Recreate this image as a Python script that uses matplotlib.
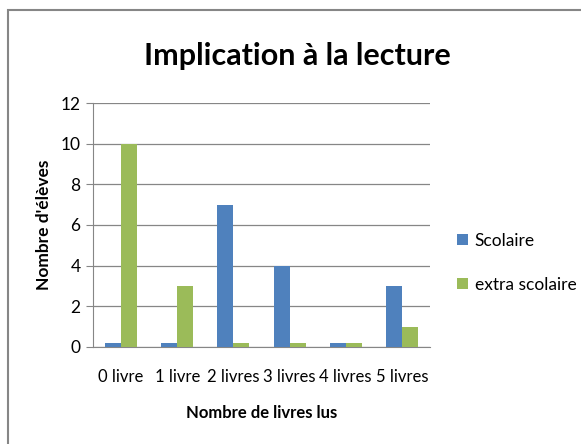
import matplotlib.pyplot as plt
from matplotlib.patches import Rectangle
import numpy as np

plt.rcParams['font.family'] = ['Lato', 'DejaVu Sans']

categories = ['0 livre', '1 livre', '2 livres', '3 livres', '4 livres', '5 livres']
scolaire = [0.2, 0.2, 7, 4, 0.2, 3]
extra_scolaire = [10, 3, 0.2, 0.2, 0.2, 1]
series_names = ['Scolaire', 'extra scolaire']
yticks = [0, 2, 4, 6, 8, 10, 12]

fig = plt.figure(figsize=(5.81, 4.44), dpi=100)
ax = fig.add_axes([0.160, 0.2185, 0.580, 0.5495])

x = np.arange(len(categories))
w = 0.285
ax.bar(x - w / 2, scolaire, w, color='#4F81BD', label=series_names[0], zorder=3)
ax.bar(x + w / 2, extra_scolaire, w, color='#9BBB59', label=series_names[1], zorder=3)

ax.set_xlim(-0.5, len(categories) - 0.5)
ax.set_ylim(0, 12)
ax.set_yticks(yticks)
ax.set_xticks(x)
ax.set_xticklabels(categories, fontsize=12)
ax.tick_params(axis='y', labelsize=12.5, length=5, color='#868686', pad=4)
ax.tick_params(axis='x', length=0, pad=16)
ax.grid(axis='y', color='#868686', linewidth=0.9, zorder=0)
for side in ('top', 'right'):
    ax.spines[side].set_visible(False)
for side in ('left', 'bottom'):
    ax.spines[side].set_color('#868686')

fig.text(0.512, 0.875, 'Implication à la lecture', fontsize=22,
         fontweight='bold', ha='center', va='center')
ax.set_xlabel('Nombre de livres lus', fontsize=12, fontweight='bold', labelpad=14)
ax.set_ylabel("Nombre d'élèves", fontsize=12.5, fontweight='bold', labelpad=6)

fig.legend(loc='center left', bbox_to_anchor=(0.76, 0.408), frameon=False,
           fontsize=12.5, handlelength=0.6, handleheight=0.6, handletextpad=0.4,
           labelspacing=1.6)

fig.patches.append(Rectangle((8 / 581, -0.1), 1.2, 1 - 10 / 444 + 0.1,
                             transform=fig.transFigure, fill=False,
                             edgecolor='#868686', linewidth=1.5))

fig.savefig('out.png', dpi=100)
